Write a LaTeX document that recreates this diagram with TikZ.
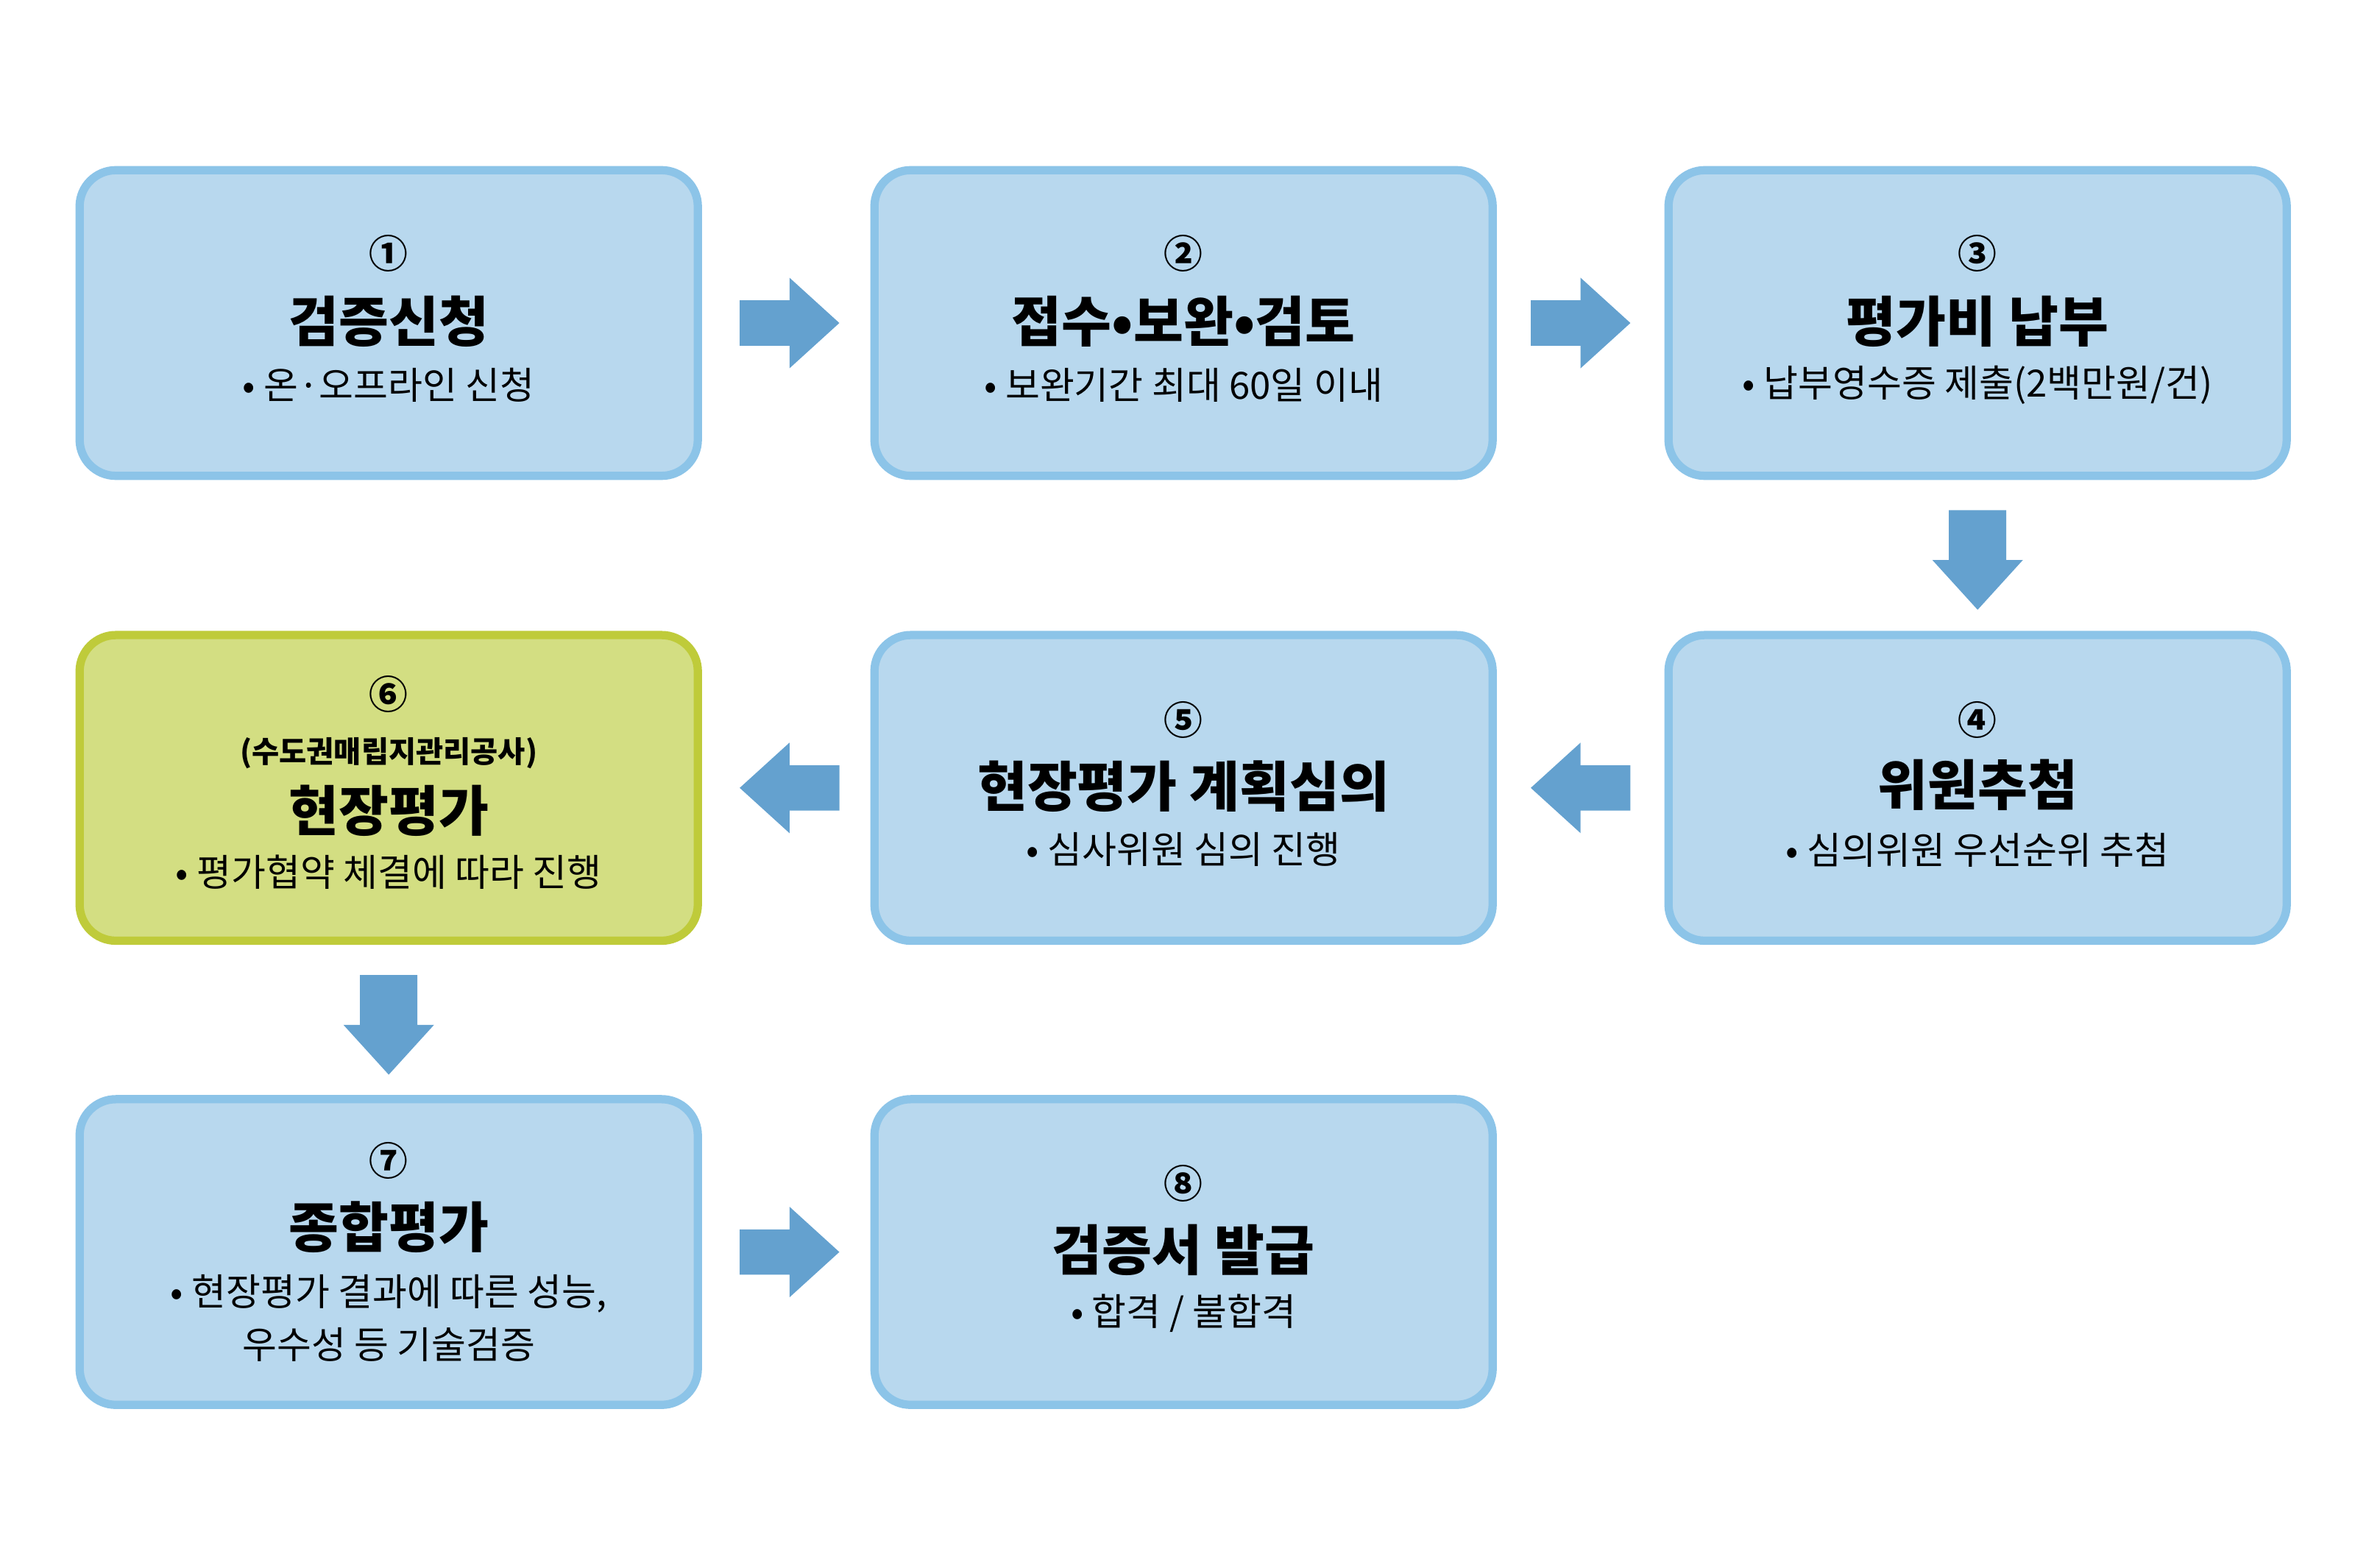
\documentclass[tikz,border=0pt]{standalone}
\usepackage{fontspec}
\setmainfont{Noto Sans CJK KR}
\begin{document}
\begin{tikzpicture}[x=0.02051cm,y=-0.02051cm,
 box/.style={draw=boxb,fill=boxf,line width=3.2pt,rounded corners=14pt},
 gbox/.style={draw=gb,fill=gf,line width=3.2pt,rounded corners=14pt},
 num/.style={font=\fontsize{15}{15}\selectfont\bfseries},
 ttl/.style={font=\fontsize{21}{21}\selectfont\bfseries},
 sub/.style={font=\fontsize{14.5}{15}\selectfont},
 arr/.style={fill=arc,draw=none}]
\definecolor{boxf}{HTML}{B8D8EE}\definecolor{boxb}{HTML}{8CC4E8}
\definecolor{gf}{HTML}{D3DE82}\definecolor{gb}{HTML}{BFCB3A}
\definecolor{arc}{HTML}{64A1CF}
\useasboundingbox (0,0) rectangle (1560,1038.5);
\newcommand{\rarr}[2]{\fill[arr] (#1-33,#2-15)--(#1,#2-15)--(#1,#2-30)--(#1+33,#2)--(#1,#2+30)--(#1,#2+15)--(#1-33,#2+15)--cycle;}
\newcommand{\larr}[2]{\fill[arr] (#1+33,#2-15)--(#1,#2-15)--(#1,#2-30)--(#1-33,#2)--(#1,#2+30)--(#1,#2+15)--(#1+33,#2+15)--cycle;}
\newcommand{\darr}[2]{\fill[arr] (#1-19,#2-33)--(#1-19,#2)--(#1-30,#2)--(#1,#2+33)--(#1+30,#2)--(#1+19,#2)--(#1+19,#2-33)--cycle;}
\node[box,minimum width=415*0.02051cm-3.2pt,minimum height=208*0.02051cm-3.2pt] (b1) at (257.5,214) {};
\node[box,minimum width=415*0.02051cm-3.2pt,minimum height=208*0.02051cm-3.2pt] (b2) at (784,214) {};
\node[box,minimum width=415*0.02051cm-3.2pt,minimum height=208*0.02051cm-3.2pt] (b3) at (1310,214) {};
\node[box,minimum width=415*0.02051cm-3.2pt,minimum height=208*0.02051cm-3.2pt] (b4) at (1310,522) {};
\node[box,minimum width=415*0.02051cm-3.2pt,minimum height=208*0.02051cm-3.2pt] (b5) at (784,522) {};
\node[gbox,minimum width=415*0.02051cm-3.2pt,minimum height=208*0.02051cm-3.2pt] (b6) at (257.5,522) {};
\node[box,minimum width=415*0.02051cm-3.2pt,minimum height=208*0.02051cm-3.2pt] (b7) at (257.5,829.5) {};
\node[box,minimum width=415*0.02051cm-3.2pt,minimum height=208*0.02051cm-3.2pt] (b8) at (784,829.5) {};
\rarr{523}{214}\rarr{1047}{214}\darr{1310}{371}\larr{1047}{522}\larr{523}{522}\darr{257.5}{679}\rarr{523}{829.5}
\node[num] (n1) at (257.5,168) {①};
\node[ttl] (t1) at (257.5,213) {검증신청};
\node[sub] (s1) at (257.5,255) {• 온·오프라인 신청};
\node[num] (n2) at (784,168) {②};
\node[ttl] (t2) at (784,213) {접수•보완•검토};
\node[sub] (s2) at (784,255) {• 보완기간 최대 60일 이내};
\node[num] (n3) at (1310,168) {③};
\node[ttl] (t3) at (1310,213) {평가비 납부};
\node[sub] (s3) at (1310,255) {• 납부영수증 제출(2백만원/건)};
\node[num] (n4) at (1310,477) {④};
\node[ttl] (t4) at (1310,520) {위원추첨};
\node[sub] (s4) at (1310,563) {• 심의위원 우선순위 추첨};
\node[num] (n5) at (784,477) {⑤};
\node[ttl] (t5) at (784,521) {현장평가 계획심의};
\node[sub] (s5) at (784,563) {• 심사위원 심의 진행};
\node[num] (n6) at (257.5,460) {⑥};
\node[font=\fontsize{11.5}{12}\selectfont\bfseries] (p6) at (257.5,499) {(수도권매립지관리공사)};
\node[ttl] (t6) at (257.5,537) {현장평가};
\node[sub] (s6) at (257.5,578) {• 평가협약 체결에 따라 진행};
\node[num] (n7) at (257.5,769) {⑦};
\node[ttl] (t7) at (257.5,813) {종합평가};
\node[sub] (s7) at (257.5,857) {• 현장평가 결과에 따른 성능,};
\node[sub] (s7b) at (257.5,891) {우수성 등 기술검증};
\node[num] (n8) at (784,784) {⑧};
\node[ttl] (t8) at (784,828) {검증서 발급};
\node[sub] (s8) at (784,870) {• 합격 / 불합격};
\end{tikzpicture}
\end{document}
